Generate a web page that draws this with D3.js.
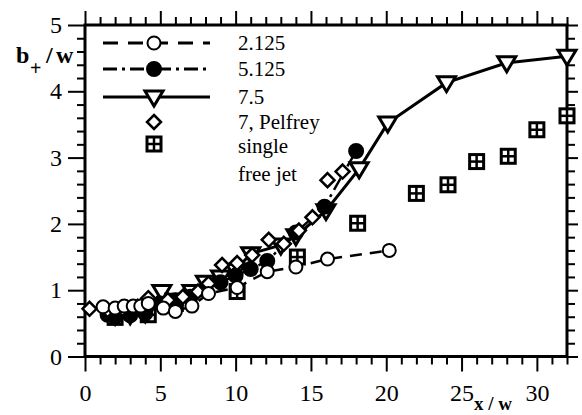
<!DOCTYPE html>
<html>
<head>
<meta charset="utf-8">
<script src="https://cdn.jsdelivr.net/npm/d3@7"></script>
<style>
  html, body { margin: 0; padding: 0; background: #fff; }
  svg text { font-family: "Liberation Serif", "Times New Roman", serif; }
</style>
</head>
<body>
<svg id="chart" width="582" height="415"></svg>
<script>
// series values
const circX = [1.2, 2.0, 2.6, 3.2, 3.7, 4.2, 5.2, 6.0, 7.1, 8.2, 10.1, 12.1, 14.0, 16.1, 20.2];
const circY = [0.75, 0.73, 0.76, 0.76, 0.76, 0.80, 0.73, 0.68, 0.76, 0.95, 1.04, 1.28, 1.35, 1.47, 1.60];

const dotX = [1.5, 2.0, 3.0, 4.0, 5.0, 6.0, 7.0, 8.0, 9.0, 10.0, 11.0, 12.1, 14.0, 15.9, 18.0];
const dotY = [0.63, 0.60, 0.62, 0.65, 0.80, 0.85, 0.90, 1.00, 1.12, 1.22, 1.32, 1.44, 1.87, 2.26, 3.10];

const triX = [2, 3, 4, 5.1, 6, 7.1, 8, 9, 10, 11, 13, 14, 16, 18.2, 20.1, 24, 28, 32];
const triY = [0.62, 0.63, 0.66, 0.98, 0.85, 0.98, 1.12, 1.2, 1.3, 1.55, 1.68, 1.82, 2.2, 2.83, 3.52, 4.13, 4.43, 4.53];

const pelX = [0.3, 1.5, 2.5, 3.5, 4.2, 5.5, 6.5, 7.5, 8.2, 9.1, 10.1, 11.1, 12.2, 13.2, 14.2, 15.1, 16.1, 17.1];
const pelY = [0.72, 0.70, 0.72, 0.75, 0.88, 0.85, 0.90, 0.98, 1.10, 1.38, 1.41, 1.53, 1.76, 1.70, 1.90, 2.10, 2.66, 2.79];

const sqX = [2.0, 4.2, 6.0, 10.1, 14.1, 18.1, 22.0, 24.1, 26.0, 28.1, 30.0, 32.0];
const sqY = [0.59, 0.63, 0.80, 0.98, 1.50, 2.01, 2.46, 2.59, 2.94, 3.02, 3.42, 3.63];

const xTicks = [0, 5, 10, 15, 20, 25, 30];
const yTicks = [0, 1, 2, 3, 4, 5];
const legendLabels = ["2.125", "5.125", "7.5", "7, Pelfrey", "single", "free jet"];

const FONT = "'Liberation Serif', 'Times New Roman', serif";
const svg = d3.select("#chart");
const L = 85, R = 567, T = 25, B = 356.5;

const x = d3.scaleLinear().domain([0, 32]).range([L, R]);
const y = d3.scaleLinear().domain([0, 5]).range([B, T]);

const zip = (a, b) => a.map((v, i) => [v, b[i]]);

// ---- axes (ticks outward on all four sides)
function styleAxis(g) {
  g.attr("font-family", null);
  g.select(".domain").remove();
  g.selectAll("line").attr("stroke", "#000").attr("stroke-width", 2);
  g.selectAll("text").style("font-family", FONT).attr("font-size", 24).attr("fill", "#000");
}

const minorX = d3.range(0, 33, 1).filter(v => v % 5 !== 0);
const minorY = d3.range(0, 5.01, 0.2).map(v => +v.toFixed(1)).filter(v => v % 1 !== 0);

svg.append("g").attr("transform", `translate(0,${B})`)
  .call(d3.axisBottom(x).tickValues(xTicks).tickSize(15).tickPadding(12).tickFormat(d3.format("d")))
  .call(styleAxis);
svg.append("g").attr("transform", `translate(0,${B})`)
  .call(d3.axisBottom(x).tickValues(minorX).tickSize(8).tickFormat(""))
  .call(styleAxis);

svg.append("g").attr("transform", `translate(0,${T})`)
  .call(d3.axisTop(x).tickValues(xTicks).tickSize(14).tickFormat(""))
  .call(styleAxis);
svg.append("g").attr("transform", `translate(0,${T})`)
  .call(d3.axisTop(x).tickValues(minorX).tickSize(8).tickFormat(""))
  .call(styleAxis);

svg.append("g").attr("transform", `translate(${L},0)`)
  .call(d3.axisLeft(y).tickValues(yTicks).tickSize(17).tickPadding(6).tickFormat(d3.format("d")))
  .call(styleAxis);
svg.append("g").attr("transform", `translate(${L},0)`)
  .call(d3.axisLeft(y).tickValues(minorY).tickSize(8).tickFormat(""))
  .call(styleAxis);

svg.append("g").attr("transform", `translate(${R},0)`)
  .call(d3.axisRight(y).tickValues(yTicks).tickSize(11).tickFormat(""))
  .call(styleAxis);
svg.append("g").attr("transform", `translate(${R},0)`)
  .call(d3.axisRight(y).tickValues(minorY).tickSize(8).tickFormat(""))
  .call(styleAxis);

// frame
svg.append("rect")
  .attr("x", L).attr("y", T).attr("width", R - L).attr("height", B - T)
  .attr("fill", "none").attr("stroke", "#000").attr("stroke-width", 3);

// axis titles
const yl = svg.append("g").attr("font-weight", "bold").attr("fill", "#000");
yl.append("text").attr("x", 16).attr("y", 63).attr("font-size", 24).text("b");
yl.append("text").attr("x", 30).attr("y", 75).attr("font-size", 20).text("+");
yl.append("text").attr("x", 46).attr("y", 63).attr("font-size", 24).text("/");
yl.append("text").attr("x", 56).attr("y", 63).attr("font-size", 24).text("w");

svg.append("text").attr("x", 474).attr("y", 410)
  .attr("font-weight", "bold").attr("font-size", 19).text("x / w");

// ---- lines
const line = d3.line().x(d => x(d[0])).y(d => y(d[1]));

svg.append("path").datum(zip(circX, circY))
  .attr("d", line).attr("fill", "none").attr("stroke", "#000")
  .attr("stroke-width", 2.5).attr("stroke-dasharray", "12,8");
svg.append("path").datum(zip(dotX, dotY))
  .attr("d", line).attr("fill", "none").attr("stroke", "#000")
  .attr("stroke-width", 2.5).attr("stroke-dasharray", "14,5,3,5");
svg.append("path").datum(zip(triX, triY))
  .attr("d", line).attr("fill", "none").attr("stroke", "#000")
  .attr("stroke-width", 3);

// ---- marker drawers
function drawSquare(g, cx, cy) {
  g.append("rect").attr("x", cx - 7).attr("y", cy - 7).attr("width", 14).attr("height", 14)
    .attr("fill", "#fff").attr("stroke", "#000").attr("stroke-width", 3);
  g.append("line").attr("x1", cx - 7).attr("x2", cx + 7).attr("y1", cy).attr("y2", cy)
    .attr("stroke", "#000").attr("stroke-width", 2.5);
  g.append("line").attr("x1", cx).attr("x2", cx).attr("y1", cy - 7).attr("y2", cy + 7)
    .attr("stroke", "#000").attr("stroke-width", 2.5);
}
function drawCircle(g, cx, cy, filled) {
  g.append("circle").attr("cx", cx).attr("cy", cy).attr("r", filled ? 7 : 6.5)
    .attr("fill", filled ? "#000" : "#fff").attr("stroke", "#000").attr("stroke-width", 2);
}
function drawTri(g, cx, cy) {
  g.append("path")
    .attr("d", `M${cx - 9},${cy - 6}L${cx + 9},${cy - 6}L${cx},${cy + 9}Z`)
    .attr("fill", "#fff").attr("stroke", "#000").attr("stroke-width", 3)
    .attr("stroke-linejoin", "miter");
}
function drawDiamond(g, cx, cy) {
  g.append("path")
    .attr("d", `M${cx},${cy - 7}L${cx + 7},${cy}L${cx},${cy + 7}L${cx - 7},${cy}Z`)
    .attr("fill", "#fff").attr("stroke", "#000").attr("stroke-width", 2.5);
}

const marks = svg.append("g");
zip(sqX, sqY).forEach(d => drawSquare(marks, x(d[0]), y(d[1])));
zip(triX, triY).forEach(d => drawTri(marks, x(d[0]), y(d[1])));
zip(dotX, dotY).forEach(d => drawCircle(marks, x(d[0]), y(d[1]), true));
zip(pelX, pelY).forEach(d => drawDiamond(marks, x(d[0]), y(d[1])));
zip(circX, circY).forEach(d => drawCircle(marks, x(d[0]), y(d[1]), false));

// ---- legend
const lg = svg.append("g");
const lx0 = 103, lx1 = 210, mx = 154, tx = 238;
const rows = [43, 69, 97, 122, 144];

lg.append("line").attr("x1", lx0).attr("x2", lx1).attr("y1", rows[0]).attr("y2", rows[0])
  .attr("stroke", "#000").attr("stroke-width", 3).attr("stroke-dasharray", "15,10");
drawCircle(lg, mx, rows[0], false);
lg.append("line").attr("x1", lx0).attr("x2", lx1).attr("y1", rows[1]).attr("y2", rows[1])
  .attr("stroke", "#000").attr("stroke-width", 3).attr("stroke-dasharray", "14,5,3,5");
drawCircle(lg, mx, rows[1], true);
lg.append("line").attr("x1", lx0).attr("x2", lx1).attr("y1", rows[2]).attr("y2", rows[2])
  .attr("stroke", "#000").attr("stroke-width", 3);
drawTri(lg, mx, rows[2]);
drawDiamond(lg, mx, rows[3]);
drawSquare(lg, mx, rows[4]);

const textBase = [50, 76, 104, 129, 153, 181];
lg.selectAll("text.lab").data(legendLabels).join("text")
  .attr("class", "lab")
  .attr("x", tx).attr("y", (d, i) => textBase[i])
  .attr("font-size", 21).attr("fill", "#000")
  .text(d => d);
</script>
</body>
</html>
